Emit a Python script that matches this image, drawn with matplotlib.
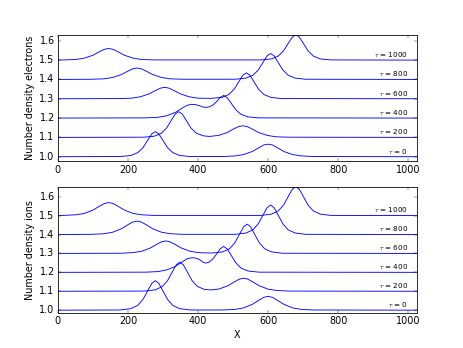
import matplotlib
matplotlib.use("Agg")
import matplotlib.pyplot as plt

plt.style.use("classic")

taus = [0, 200, 400, 600, 800, 1000]
baselines = [1.0, 1.1, 1.2, 1.3, 1.4, 1.5]
tau_labels = [r"$\tau$ = 0", r"$\tau$ = 200", r"$\tau$ = 400",
              r"$\tau$ = 600", r"$\tau$ = 800", r"$\tau$ = 1000"]

# ---------------- electrons ----------------
xe0 = [0, 178, 208, 228, 243, 258, 268, 278, 288, 298, 313, 328, 348, 378,
       470, 505, 530, 555, 575, 588, 600, 612, 625, 645, 670, 695, 730, 1024]
ye0 = [1.0, 1.001, 1.006, 1.021, 1.047, 1.090, 1.118, 1.130, 1.118, 1.090, 1.047, 1.021, 1.006, 1.001,
       1.001, 1.004, 1.011, 1.027, 1.048, 1.061, 1.065, 1.061, 1.048, 1.027, 1.011, 1.004, 1.001, 1.0]

xe200 = [0, 245, 275, 295, 310, 325, 335, 345, 355, 365, 380, 395, 415, 433, 458, 483,
         503, 516, 528, 540, 553, 573, 598, 623, 658, 1024]
ye200 = [1.1, 1.101, 1.106, 1.121, 1.148, 1.192, 1.221, 1.233, 1.221, 1.192, 1.148, 1.122, 1.108,
         1.105, 1.110, 1.125, 1.145, 1.156, 1.160, 1.156, 1.145, 1.125, 1.110, 1.103, 1.101, 1.1]

xe400 = [0, 251, 286, 311, 336, 356, 369, 381, 392, 404, 414, 422, 432, 443, 453, 463, 473,
         483, 493, 508, 523, 543, 573, 1024]
ye400 = [1.2, 1.201, 1.204, 1.212, 1.230, 1.253, 1.266, 1.271, 1.270, 1.264, 1.257, 1.255, 1.258,
         1.268, 1.285, 1.306, 1.317, 1.306, 1.281, 1.2425, 1.219, 1.206, 1.201, 1.2]

xe600 = [0, 175, 210, 235, 260, 280, 293, 305, 317, 330, 350, 375, 400, 436, 468, 488, 503,
         518, 528, 538, 548, 558, 573, 588, 608, 638, 1024]
ye600 = [1.3, 1.301, 1.303, 1.310, 1.325, 1.344, 1.355, 1.359, 1.355, 1.344, 1.325, 1.310, 1.303,
         1.302, 1.307, 1.322, 1.349, 1.393, 1.422, 1.434, 1.422, 1.393, 1.349, 1.322, 1.307, 1.301, 1.3]

xe800 = [0, 96, 131, 156, 181, 201, 214, 226, 238, 251, 271, 296, 321, 356,
         507, 537, 557, 572, 587, 597, 607, 617, 627, 642, 657, 677, 707, 1024]
ye800 = [1.4, 1.401, 1.403, 1.410, 1.425, 1.444, 1.455, 1.459, 1.455, 1.444, 1.425, 1.410, 1.403, 1.401,
         1.401, 1.407, 1.422, 1.449, 1.493, 1.522, 1.534, 1.522, 1.493, 1.449, 1.422, 1.407, 1.401, 1.4]

xe1000 = [0, 15, 50, 75, 100, 120, 133, 145, 157, 170, 190, 215, 240, 275,
          579, 609, 629, 644, 659, 669, 679, 689, 699, 714, 729, 749, 779, 1024]
ye1000 = [1.5, 1.501, 1.503, 1.510, 1.525, 1.545, 1.556, 1.560, 1.556, 1.545, 1.525, 1.510, 1.503, 1.501,
          1.501, 1.506, 1.521, 1.548, 1.591, 1.619, 1.631, 1.619, 1.591, 1.548, 1.521, 1.506, 1.501, 1.5]

# ---------------- ions ----------------
xi0 = [0, 178, 208, 228, 243, 258, 268, 278, 288, 298, 313, 328, 348, 378,
       470, 505, 530, 555, 575, 588, 600, 612, 625, 645, 670, 695, 730, 1024]
yi0 = [1.0, 1.001, 1.008, 1.025, 1.057, 1.108, 1.142, 1.156, 1.142, 1.108, 1.057, 1.025, 1.008, 1.001,
       1.001, 1.004, 1.012, 1.031, 1.054, 1.068, 1.073, 1.068, 1.054, 1.031, 1.012, 1.004, 1.001, 1.0]

xi200 = [0, 248, 278, 298, 313, 328, 338, 348, 358, 368, 383, 398, 418, 438, 460, 485,
         505, 518, 530, 542, 555, 575, 600, 625, 660, 1024]
yi200 = [1.1, 1.101, 1.1075, 1.125, 1.156, 1.207, 1.240, 1.254, 1.240, 1.207, 1.156, 1.126, 1.1095,
         1.107, 1.112, 1.129, 1.151, 1.164, 1.169, 1.164, 1.151, 1.129, 1.111, 1.104, 1.101, 1.1]

xi400 = [0, 251, 286, 311, 336, 356, 369, 381, 392, 404, 414, 422, 432, 443, 453, 463, 473,
         483, 493, 508, 523, 543, 573, 1024]
yi400 = [1.2, 1.201, 1.204, 1.213, 1.232, 1.257, 1.272, 1.277, 1.276, 1.268, 1.254, 1.249, 1.254,
         1.272, 1.297, 1.324, 1.337, 1.324, 1.295, 1.250, 1.222, 1.207, 1.201, 1.2]

xi600 = [0, 178, 213, 238, 263, 283, 296, 308, 320, 333, 353, 378, 403, 439, 470, 490, 505,
         520, 530, 540, 550, 560, 575, 590, 610, 640, 1024]
yi600 = [1.3, 1.301, 1.304, 1.311, 1.328, 1.349, 1.3615, 1.366, 1.3615, 1.349, 1.328, 1.311, 1.304,
         1.302, 1.308, 1.325, 1.356, 1.407, 1.441, 1.455, 1.441, 1.407, 1.356, 1.325, 1.308, 1.301, 1.3]

xi800 = [0, 96, 131, 156, 181, 201, 214, 226, 238, 251, 271, 296, 321, 356,
         507, 537, 557, 572, 587, 597, 607, 617, 627, 642, 657, 677, 707, 1024]
yi800 = [1.4, 1.401, 1.404, 1.412, 1.430, 1.453, 1.466, 1.471, 1.466, 1.453, 1.430, 1.412, 1.404, 1.401,
         1.401, 1.408, 1.425, 1.457, 1.508, 1.542, 1.556, 1.542, 1.508, 1.457, 1.425, 1.408, 1.401, 1.4]

xi1000 = [0, 15, 50, 75, 100, 120, 133, 145, 157, 170, 190, 215, 240, 275,
          579, 609, 629, 644, 659, 669, 679, 689, 699, 714, 729, 749, 779, 1024]
yi1000 = [1.5, 1.501, 1.504, 1.511, 1.529, 1.551, 1.564, 1.569, 1.564, 1.551, 1.529, 1.511, 1.504, 1.501,
          1.501, 1.5075, 1.525, 1.5555, 1.606, 1.639, 1.653, 1.639, 1.606, 1.5555, 1.525, 1.5075, 1.501, 1.5]

electrons = [(xe0, ye0), (xe200, ye200), (xe400, ye400), (xe600, ye600), (xe800, ye800), (xe1000, ye1000)]
ions = [(xi0, yi0), (xi200, yi200), (xi400, yi400), (xi600, yi600), (xi800, yi800), (xi1000, yi1000)]

fig, (ax1, ax2) = plt.subplots(2, 1, figsize=(463 / 58, 348 / 58), dpi=58)
fig.patch.set_facecolor("white")

for ax, curves, ylab, ylim in [(ax1, electrons, "Number density electrons", (0.976, 1.631)),
                              (ax2, ions, "Number density ions", (0.984, 1.653))]:
    for (xs, ys), base, lab in zip(curves, baselines, tau_labels):
        ax.plot(xs, ys, color="b", lw=1.1)
        ax.text(1000, base + 0.006, lab, ha="right", va="bottom", fontsize=9)
    ax.set_xlim(0, 1024)
    ax.set_ylim(*ylim)
    ax.set_ylabel(ylab)
    ax.set_yticks([1.0, 1.1, 1.2, 1.3, 1.4, 1.5, 1.6])
    ax.set_xticks([0, 200, 400, 600, 800, 1000])

ax2.set_xlabel("X")

fig.savefig("out.png", dpi=58, facecolor="white")
